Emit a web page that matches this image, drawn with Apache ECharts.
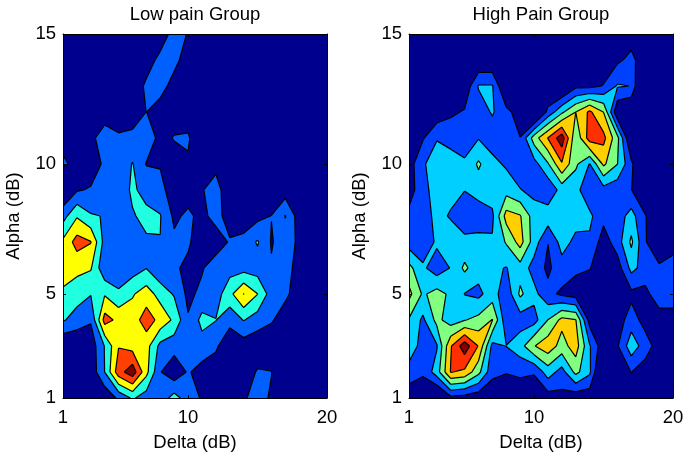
<!DOCTYPE html>
<html><head><meta charset="utf-8">
<style>html,body{margin:0;padding:0;background:#fff}#c{width:687px;height:459px}</style>
<script src="https://cdn.jsdelivr.net/npm/echarts@6/dist/echarts.min.js"></script>
</head><body><div id="c"></div>
<script>
const deltaTicks=[1,10,20];
const alphaTicks=[1,5,10,15];
const lowColors=['#00008f','#0060ff','#20ffdf','#ffff00','#ff4000','#800000'];
const highColors=['#00008f','#0040ff','#00cfff','#80ff80','#ffcf00','#ff3000','#800000'];
// rows run from Alpha 15 (first) down to Alpha 1 (last); columns are Delta 1..20
const lowPain=[
[.3,.3,.3,.3,.3,.3,.3,.4,1.4,.95,.3,.3,.3,.3,.3,.3,.3,.3,.3,.3],
[.3,.3,.3,.3,.3,.3,.5,1.3,1.3,.5,.3,.3,.3,.3,.3,.3,.3,.3,.3,.3],
[.3,.3,.3,.3,.3,.3,1.2,1.4,.6,.3,.3,.3,.3,.3,.3,.3,.3,.3,.3,.3],
[.3,.3,.3,.6,.6,.4,1.01,.5,.6,.6,.3,.3,.3,.3,.3,.3,.3,.3,.3,.3],
[.8,.4,.8,1.4,1.1,1.3,1.5,.75,1.05,1.1,.3,.3,.3,.3,.3,.3,.3,.3,.3,.3],
[1.1,.83,.4,1.2,1.3,2.05,.95,.9,.6,.9,.5,.8,.4,.3,.3,.3,.3,.3,.3,.3],
[0,.9,1.1,1.3,1.3,2.2,1.6,1.4,.3,.55,.95,1.3,.5,.3,.3,.3,.5,.4,.3,.3],
[1.6,2.9,2.1,1.95,1.4,1.9,2.3,2.05,.8,1.2,.7,1.4,.5,.2,.7,1.02,2.05,.5,.3,.3],
[3.2,4.4,4.05,1.6,1.5,1.6,1.85,1.98,1.2,1.1,.6,.4,1.1,1.4,2.1,.92,1.5,.8,.3,.3],
[3.8,3.3,3.1,1.2,1.2,1.5,1.97,1.2,1.1,.85,.9,1.6,1.6,1.6,1.5,1.1,1.3,.7,.3,.3],
[2.7,2.4,2.05,2.9,2.2,2.9,3.5,2.6,1.9,.75,1.25,1.5,2.7,4.03,3.02,1.5,1.2,.5,.3,.3],
[2.1,1.6,1.1,4.4,3.75,3.5,4.5,3.7,2.8,1.1,2.3,2.03,1.3,2.05,1.5,1.1,.5,.3,.3,.3],
[0,0,.4,2.05,3.95,3.6,3.4,1.7,1.4,1.3,1.6,1.15,.3,.5,.3,.3,.3,.3,.3,.3],
[.3,.3,.3,2.01,4.6,5.6,3.3,1.05,.3,1.1,.6,.5,.3,.4,1.1,1.02,.4,.3,.3,.3],
[.3,.3,.3,.2,1.2,2.14,1.5,1.4,2.4,1.5,.9,.3,.3,.9,1.3,.9,.3,.3,.3,.3]];
const highPain=[
[.3,.3,.3,.3,.3,.3,.3,.3,.3,.3,.3,.3,.3,.3,.3,.3,.5,.3,.3,.3],
[.3,.3,.3,.3,.3,0,0,.3,.3,.3,.3,.3,.3,.3,.4,.8,1.3,.3,.3,.3],
[.3,.3,.3,.3,.2,2.08,2.08,-.3,.3,.2,-.2,-.4,.75,.7,1.05,2.1,1.98,-1.5,.3,.3],
[.3,.3,.3,.8,1.1,1.5,2.1,1.3,.5,-1,1.3,2.8,4,5.2,3.98,.1,-.3,.3,.3,.3],
[.3,.9,1.95,1.7,1.5,1.95,1.5,1.4,1.02,3.5,5.05,6.6,3.2,5.5,5.3,3.3,-.3,.3,.3,.3],
[.5,1.9,2.4,2.4,2.15,3.15,2.3,1.85,1.3,1.6,2.9,4.9,3.2,1.95,4.2,3.02,1.2,-.5,.3,.3],
[.5,1.7,2.4,2.3,2.03,2.5,2.5,2.6,2.05,1.7,1.2,2.4,2.3,1.3,1.6,1.3,1.02,.3,.3,.3],
[1.3,1.5,2.3,1.9,1.3,1.3,1.8,4.4,4.08,2.5,2.6,2.4,2.4,2.2,1.3,1.5,2.4,1.05,.3,.3],
[1.5,1.2,2.2,2.6,2.3,2.4,2.1,3.1,4.4,2.5,1.02,2.4,1.75,1.85,.5,1.5,3.2,1.05,.5,.5],
[3.3,2.2,1.4,2.05,3.2,2.4,2.2,1.95,2.6,1.6,.8,1.6,1.2,1.05,.4,.5,2.3,1.6,1.1,1.5],
[4.3,2.85,3.4,2.8,1.97,1.75,2.5,1.3,3.2,2.3,1.3,.8,.5,.3,.3,.3,.75,.7,1.6,1.6],
[2.9,1.8,3.3,2.5,2.95,3.3,4.05,1.3,1.5,1.6,3.02,4.3,4.05,.6,.3,.5,1.5,.6,.5,.5],
[2.6,1.6,1.9,4.9,6.6,4.95,1.7,2.02,2.6,3.95,4.6,3.6,4.5,2.1,.3,.9,2.6,1.5,.5,.3],
[1.6,1.15,2.5,5.05,4.8,3.3,1.3,1.05,1.2,1.1,2.5,1.6,3.3,2.2,-1,.4,1.02,.5,.3,.3],
[.3,.3,-.5,.7,.5,.3,.2,.3,.3,.2,.5,.7,.3,.3,.3,.3,.3,.3,.3,.3]];

function clipCell(poly,lvl){
  const res=[];
  for(let i=0;i<poly.length;i++){
    const a=poly[i],b=poly[(i+1)%poly.length];
    const ain=a[2]>=lvl,bin=b[2]>=lvl;
    if(ain)res.push([a[0],a[1],false]);
    if(ain!==bin){const t=(lvl-a[2])/(b[2]-a[2]);res.push([a[0]+t*(b[0]-a[0]),a[1]+t*(b[1]-a[1]),true]);}
  }
  return res;
}
function buildPaths(grid,level,api){
  let fill='',line='';
  const P=(x,y)=>{const c=api.coord([x,y]);return c[0].toFixed(2)+' '+c[1].toFixed(2);};
  const n=grid.length,m=grid[0].length;
  for(let r=0;r<n-1;r++)for(let c=0;c<m-1;c++){
    const yT=15-r,yB=14-r,xL=c+1,xR=c+2;
    const q=[[xL,yT,grid[r][c]],[xR,yT,grid[r][c+1]],[xR,yB,grid[r+1][c+1]],[xL,yB,grid[r+1][c]]];
    const res=level===0?q.map(p=>[p[0],p[1],false]):clipCell(q,level);
    if(res.length<3)continue;
    fill+='M'+res.map(p=>P(p[0],p[1])).join('L')+'Z';
    for(let i=0;i<res.length;i++){
      const a=res[i],b=res[(i+1)%res.length];
      if(a[2]&&b[2])line+='M'+P(a[0],a[1])+'L'+P(b[0],b[1]);
    }
  }
  return {fill,line};
}
function contourSeries(grid,colors,idx){
  return {type:'custom',xAxisIndex:idx*2,yAxisIndex:idx*2,silent:true,clip:true,z:2,
    coordinateSystem:'cartesian2d',encode:{x:0,y:1},
    data:colors.map((c,i)=>[1,1,i]),
    renderItem:function(params,api){
      const lv=api.value(2);
      const p=buildPaths(grid,lv,api);
      const children=[];
      if(p.fill)children.push({type:'path',shape:{pathData:p.fill},style:{fill:colors[lv],stroke:null},z2:lv*2});
      if(p.line)children.push({type:'path',shape:{pathData:p.line},style:{fill:null,stroke:'#000',lineWidth:1.2},z2:lv*2+1});
      return {type:'group',children};
    }};
}
const font='"Liberation Sans",Arial,sans-serif';
const fs=18.5;
function grid(left){return {left,top:34,width:264,height:364,containLabel:false};}
function xa(idx,pos,name){return {type:'value',gridIndex:idx,min:1,max:20,position:pos,z:10,
  name:name,nameLocation:'middle',nameGap:35,nameTextStyle:{fontFamily:font,fontSize:fs,color:'#000'},
  splitLine:{show:false},axisLine:{onZero:false,lineStyle:{color:'#000',width:1}},
  axisTick:{inside:true,length:3,customValues:deltaTicks,lineStyle:{color:'#000'}},
  axisLabel:{show:pos==='bottom',customValues:deltaTicks,margin:10,fontFamily:font,fontSize:fs,color:'#000',hideOverlap:false}};}
function ya(idx,pos,name){return {type:'value',gridIndex:idx,min:1,max:15,position:pos,z:10,
  name:name,nameLocation:'middle',nameGap:40,nameTextStyle:{fontFamily:font,fontSize:fs,color:'#000'},
  splitLine:{show:false},axisLine:{onZero:false,lineStyle:{color:'#000',width:1}},
  axisTick:{inside:true,length:3,customValues:alphaTicks,lineStyle:{color:'#000'}},
  axisLabel:{show:pos==='left',customValues:alphaTicks,margin:7,fontFamily:font,fontSize:fs,color:'#000',hideOverlap:false}};}
const chart=echarts.init(document.getElementById('c'),null,{renderer:'canvas'});
chart.setOption({animation:false,backgroundColor:'#fff',
  title:[
   {text:'Low pain Group',left:190,top:0,textAlign:'center',textStyle:{fontFamily:font,fontSize:fs,fontWeight:'normal',color:'#000'}},
   {text:'High Pain Group',left:536,top:0,textAlign:'center',textStyle:{fontFamily:font,fontSize:fs,fontWeight:'normal',color:'#000'}}],
  grid:[grid(63),grid(409)],
  xAxis:[xa(0,'bottom','Delta (dB)'),xa(0,'top',''),xa(1,'bottom','Delta (dB)'),xa(1,'top','')],
  yAxis:[ya(0,'left','Alpha (dB)'),ya(0,'right',''),ya(1,'left','Alpha (dB)'),ya(1,'right','')],
  series:[contourSeries(lowPain,lowColors,0),contourSeries(highPain,highColors,1)]
});
</script></body></html>
